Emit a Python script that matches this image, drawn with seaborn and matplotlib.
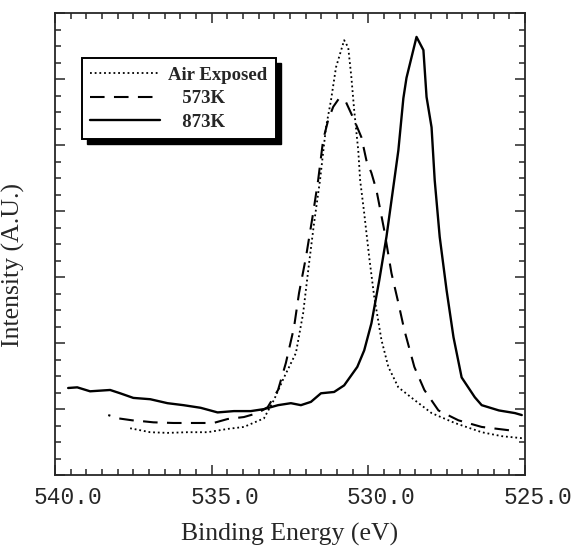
import numpy as np
import pandas as pd
import matplotlib
matplotlib.use("Agg")
import matplotlib.pyplot as plt
import matplotlib.transforms as mtransforms
from matplotlib.patches import Rectangle
from matplotlib.ticker import MultipleLocator, NullFormatter
import seaborn as sns

# ---- data (binding energy in eV, intensity in arb. units)
e_873 = [539.58, 539.29, 538.88, 538.24, 537.92, 537.50, 536.96, 536.41, 535.90,
         535.35, 534.81, 534.29, 533.75, 533.33, 532.88, 532.47, 532.15, 531.83,
         531.51, 531.09, 530.77, 530.35, 530.13, 529.90, 529.65, 529.42, 529.17,
         529.04, 528.88, 528.78, 528.46, 528.24, 528.14, 527.98, 527.88, 527.72,
         527.50, 527.28, 527.02, 526.60, 526.38, 525.83, 525.32, 525.10]
i_873 = [1.32, 1.33, 1.27, 1.29, 1.24, 1.17, 1.15, 1.09, 1.06,
         1.02, 0.95, 0.97, 0.97, 1.00, 1.06, 1.09, 1.06, 1.11,
         1.24, 1.26, 1.36, 1.64, 1.89, 2.30, 2.95, 3.61, 4.47,
         4.92, 5.71, 6.02, 6.64, 6.44, 5.73, 5.27, 4.47, 3.61,
         2.80, 2.09, 1.48, 1.18, 1.06, 0.98, 0.94, 0.91]

e_air = [537.60, 536.96, 536.41, 535.77, 535.13, 534.49, 533.97, 533.33, 533.01,
         532.69, 532.31, 532.08, 531.89, 531.73, 531.54, 531.35, 531.19, 531.03,
         530.77, 530.64, 530.54, 530.45, 530.32, 530.26, 530.13, 529.97, 529.81,
         529.58, 529.36, 529.04, 528.53, 527.98, 527.24, 526.38, 525.74, 525.10]
i_air = [0.71, 0.65, 0.64, 0.65, 0.65, 0.70, 0.73, 0.86, 1.14,
         1.48, 1.85, 2.45, 3.21, 3.82, 4.47, 5.27, 5.68, 6.18,
         6.59, 6.48, 6.03, 5.53, 4.92, 4.47, 3.97, 3.30, 2.70,
         2.05, 1.64, 1.33, 1.14, 0.94, 0.79, 0.65, 0.59, 0.56]

e_573 = [538.30, 537.98, 537.53, 537.28, 536.86, 536.22, 535.45, 534.94, 534.49,
         533.97, 533.53, 533.21, 532.88, 532.63, 532.37, 532.21, 531.99, 531.76,
         531.60, 531.44, 531.28, 531.12, 530.93, 530.71, 530.45, 530.22, 530.06,
         529.90, 529.74, 529.49, 529.26, 529.04, 528.85, 528.53, 528.21, 527.76,
         527.12, 526.38, 525.51]
i_573 = [0.91, 0.86, 0.83, 0.82, 0.80, 0.79, 0.79, 0.79, 0.85,
         0.88, 0.94, 1.03, 1.29, 1.70, 2.24, 2.76, 3.30, 3.97,
         4.47, 5.08, 5.38, 5.58, 5.71, 5.65, 5.38, 5.12, 4.77,
         4.58, 4.32, 3.71, 3.06, 2.61, 2.20, 1.64, 1.29, 0.98,
         0.83, 0.73, 0.68]

x_ticks = [540.0, 535.0, 530.0, 525.0]
x_tick_labels = ["540.0", "535.0", "530.0", "525.0"]

sns.set_style("ticks")
plt.rcParams["font.family"] = ["Liberation Serif", "DejaVu Serif"]

fig = plt.figure(figsize=(5.71, 5.48), dpi=100)
ax = fig.add_axes([0.0963, 0.133, 0.823, 0.843])

series = [
    ("Air Exposed", e_air, i_air, (0, (1, 1.6)), 1.3),
    ("   573K", e_573, i_573, (0, (7, 4.5)), 1.5),
    ("   873K", e_873, i_873, "-", 1.7),
]
for name, e, i, ls, lw in series:
    df = pd.DataFrame({"energy": e, "intensity": i})
    sns.lineplot(data=df, x="energy", y="intensity", ax=ax, color="black",
                 linestyle=ls, lw=lw, estimator=None, label=name)

ax.set_xlim(540, 525)
ax.set_ylim(0, 7)
ax.set_xticks(x_ticks)
ax.set_xticklabels(x_tick_labels, family=["Liberation Mono", "DejaVu Sans Mono"],
                   fontsize=16.5)
ax.xaxis.set_minor_locator(MultipleLocator(0.5))
ax.yaxis.set_major_locator(MultipleLocator(1))
ax.yaxis.set_minor_locator(MultipleLocator(0.25))
ax.yaxis.set_major_formatter(NullFormatter())
ax.tick_params(which="both", direction="in", top=True, right=True, width=1.1)
ax.tick_params(which="major", length=7)
ax.tick_params(which="minor", length=4)
ax.tick_params(axis="x", pad=8)
for sp in ax.spines.values():
    sp.set_linewidth(1.3)

# labels sit a little right of their ticks in the original
offset = mtransforms.ScaledTranslation(0.13, 0, fig.dpi_scale_trans)
for lab in ax.get_xticklabels():
    lab.set_transform(lab.get_transform() + offset)

ax.set_xlabel("Binding Energy (eV)", fontsize=18.5, labelpad=10)
ax.set_ylabel("Intensity (A.U.)", fontsize=18.5)
ax.yaxis.set_label_coords(-0.064, 0.455)

leg = ax.legend(loc="upper left", bbox_to_anchor=(0.057, 0.903), frameon=True,
                fancybox=False, edgecolor="black", framealpha=1,
                prop={"family": "Liberation Serif", "weight": "bold", "size": 13.5},
                handlelength=3.7, handletextpad=0.45, borderpad=0.45,
                labelspacing=0.35, borderaxespad=0)
leg.get_frame().set_linewidth(1.4)
leg.set_zorder(5)

fig.canvas.draw()
bb = leg.get_window_extent().transformed(fig.transFigure.inverted())
dx, dy = 5 / 571, 5 / 548
shadow = Rectangle((bb.x0 + dx, bb.y0 - dy), bb.width, bb.height,
                   transform=fig.transFigure, facecolor="black",
                   edgecolor="black", zorder=4)
ax.add_artist(shadow)
shadow.set_clip_on(False)

fig.savefig("out.png", dpi=100)
